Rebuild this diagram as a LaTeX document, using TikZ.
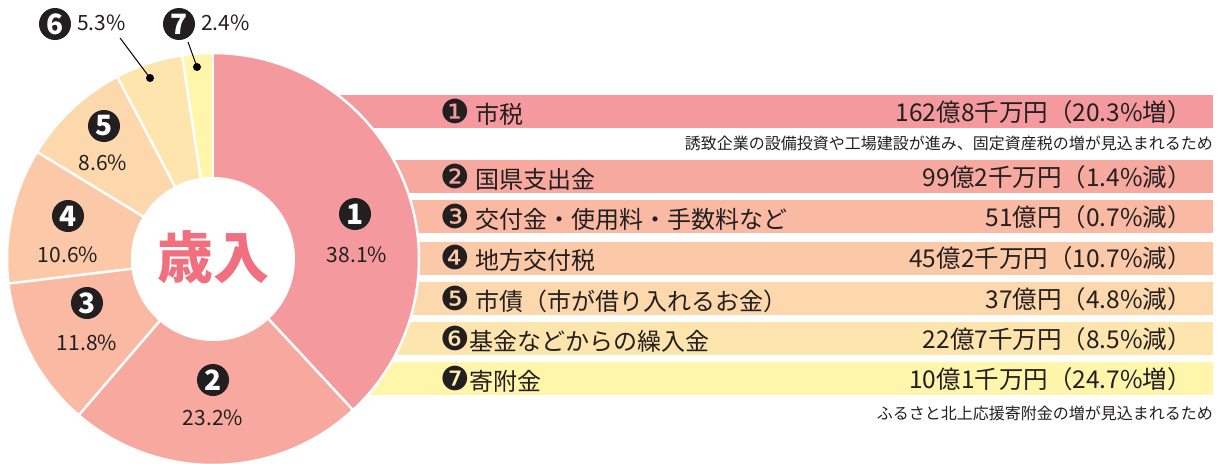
\documentclass[tikz,border=0pt]{standalone}
\usepackage{fontspec}
\setmainfont{Noto Sans CJK JP}
\newfontfamily\dingfont{DejaVu Sans}
\usetikzlibrary{calc,
                positioning
                }

\definecolor{sliceA}{HTML}{F4999E}
\definecolor{sliceB}{HTML}{F7A9A0}
\definecolor{sliceC}{HTML}{F9B9A3}
\definecolor{sliceD}{HTML}{FBC9A8}
\definecolor{sliceE}{HTML}{FDD8AC}
\definecolor{sliceF}{HTML}{FEE5AE}
\definecolor{sliceG}{HTML}{FFF6AC}
\definecolor{titlepink}{HTML}{F07080}
\definecolor{inkgray}{HTML}{231F20}

% negative circled digit
\newcommand{\cnum}[1]{{\dingfont\symbol{\numexpr"2775+#1\relax}}}
\newcommand{\barnum}[1]{{\fontsize{33}{33}\selectfont\cnum{#1}}}

\begin{document}
\begin{tikzpicture}[x=1pt, y=1pt,
    every node/.style={inner sep=0pt, text=inkgray},
    labtext/.style={anchor=west, font=\fontsize{24}{24}\selectfont},
    valtext/.style={anchor=east, font=\fontsize{24.5}{24}\selectfont},
    notetext/.style={anchor=east, font=\fontsize{16}{16}\selectfont},
    pcttext/.style={font=\fontsize{21}{21}\selectfont},
    bignum/.style={circle, fill=inkgray, minimum size=32pt, text=white,
        font=\fontsize{28}{28}\selectfont\bfseries}
    ]
    \useasboundingbox (0,0) rectangle (1223,-463);

    % bars behind the pie
    \foreach \y/\col in {95/sliceA, 160/sliceB, 200/sliceC, 242/sliceD,
                         282/sliceE, 322/sliceF, 362/sliceG}
        \fill[\col] (213,-\y) rectangle (1213,-\y-33);

    % pie
    \coordinate (c) at (213,-259);
    \foreach \a/\b/\col in {90/-47.16/sliceA, -47.16/-130.68/sliceB,
                            -130.68/-173.16/sliceC, -173.16/-211.32/sliceD,
                            -211.32/-242.28/sliceE, -242.28/-261.36/sliceF,
                            -261.36/-270/sliceG}
        \fill[\col] (c) -- ++(\a:206) arc[start angle=\a, end angle=\b,
        radius=206] -- cycle;
    \foreach \a in {90,-47.16,-130.68,-173.16,-211.32,-242.28,-261.36}
        \draw[white, line width=2.5] (c) -- ++(\a:206);
    \draw[white, line width=2.5] (c) circle (206);
    \fill[white] (c) circle (82);

    \node[text=titlepink, font=\fontsize{56}{56}\selectfont\bfseries]
        (title) at (213,-257) {歳入};

    % slice labels
    \node[bignum] (n1) at (355,-214) {1};
    \node[pcttext] (p1) at (357,-255) {38.1\%};
    \node[bignum] (n2) at (213,-380) {2};
    \node[pcttext] (p2) at (213,-418) {23.2\%};
    \node[bignum] (n3) at (87,-303) {3};
    \node[pcttext] (p3) at (87,-343) {11.8\%};
    \node[bignum] (n4) at (68,-216) {4};
    \node[pcttext] (p4) at (68,-255) {10.6\%};
    \node[bignum] (n5) at (104,-126) {5};
    \node[pcttext] (p5) at (103,-163) {8.6\%};
    \node[bignum] (n6) at (55,-24) {6};
    \node[pcttext, anchor=west] (p6) at (77,-23) {5.3\%};
    \node[bignum] (n7) at (179,-24) {7};
    \node[pcttext, anchor=west] (p7) at (201,-23) {2.4\%};

    % leaders for the thin slices
    \coordinate (l6) at (120,-38);
    \coordinate (d6) at (150,-78);
    \coordinate (l7) at (188,-42);
    \coordinate (d7) at (197,-67);
    \draw[line width=1] (l6) -- (d6);
    \draw[line width=1] (l7) -- (d7);
    \fill (d6) circle (4);
    \fill (d7) circle (4);

    % bar texts
    \node[labtext] (lab1) at (440,-112) {\barnum{1} 市税};
    \node[valtext] (val1) at (1192,-112) {162億8千万円（20.3\%増）};
    \node[notetext] (note1) at (1213,-143)
        {誘致企業の設備投資や工場建設が進み、固定資産税の増が見込まれるため};
    \node[labtext] (lab2) at (440,-177) {\barnum{2} 国県支出金};
    \node[valtext] (val2) at (1192,-177) {99億2千万円（1.4\%減）};
    \node[labtext] (lab3) at (440,-217) {\barnum{3} 交付金・使用料・手数料など};
    \node[valtext] (val3) at (1192,-217) {51億円（0.7\%減）};
    \node[labtext] (lab4) at (440,-258) {\barnum{4} 地方交付税};
    \node[valtext] (val4) at (1192,-258) {45億2千万円（10.7\%減）};
    \node[labtext] (lab5) at (440,-299) {\barnum{5} 市債（市が借り入れるお金）};
    \node[valtext] (val5) at (1192,-299) {37億円（4.8\%減）};
    \node[labtext] (lab6) at (440,-339) {\barnum{6}基金などからの繰入金};
    \node[valtext] (val6) at (1192,-339) {22億7千万円（8.5\%減）};
    \node[labtext] (lab7) at (440,-379) {\barnum{7}寄附金};
    \node[valtext] (val7) at (1192,-379) {10億1千万円（24.7\%増）};
    \node[notetext] (note7) at (1213,-413) {ふるさと北上応援寄附金の増が見込まれるため};
\end{tikzpicture}
\end{document}
